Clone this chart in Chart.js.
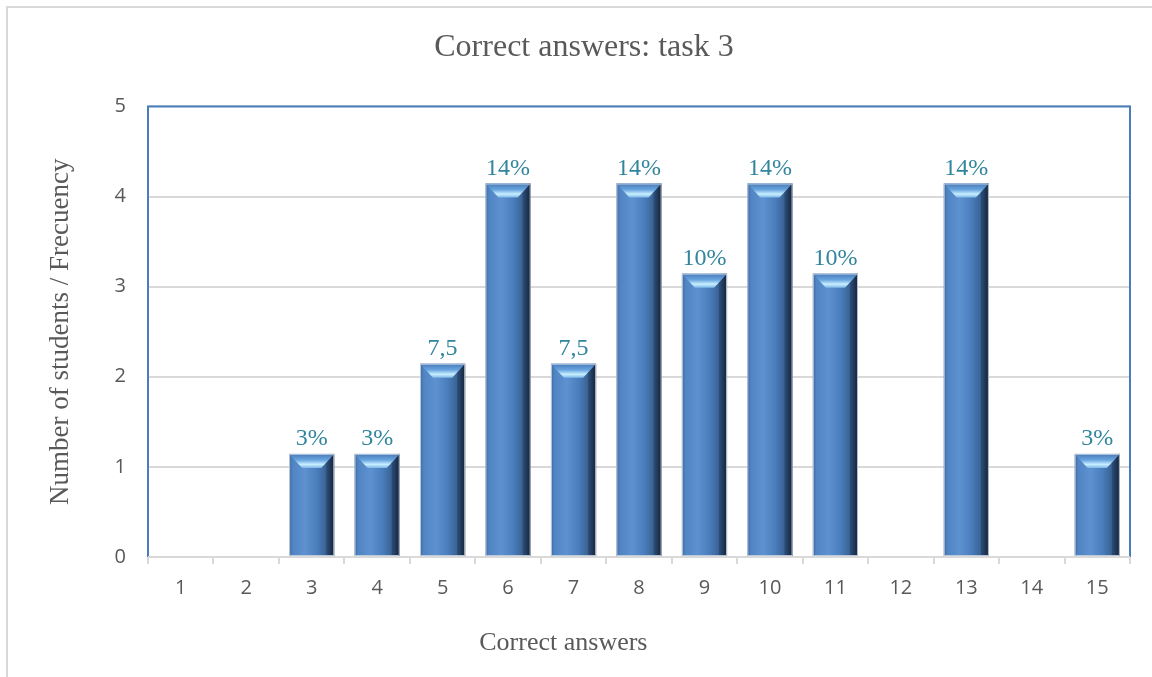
<!DOCTYPE html>
<html>
<head>
<meta charset="utf-8">
<script src="https://cdn.jsdelivr.net/npm/chart.js@4"></script>
<style>
  body { margin: 0; background: #fff; }
  #wrap { position: relative; width: 1152px; height: 677px; overflow: hidden; }
  #frame { position: absolute; left: 6px; top: 6px; width: 1200px; height: 720px; border: 2px solid #d9d9d9; }
  canvas { position: absolute; left: 0; top: 0; }
</style>
</head>
<body>
<div id="wrap">
  <div id="frame"></div>
  <canvas id="taskChart" width="1152" height="677"></canvas>
</div>
<script>
// chart data
const answers = ["1", "2", "3", "4", "5", "6", "7", "8", "9", "10", "11", "12", "13", "14", "15"];
const students = [0, 0, 1, 1, 2, 4, 2, 4, 3, 4, 3, 0, 4, 0, 1];
const percentLabels = ["", "", "3%", "3%", "7,5", "14%", "7,5", "14%", "10%", "14%", "10%", "", "14%", "", "3%"];
const yTicks = [0, 1, 2, 3, 4, 5];
const xTitle = "Correct answers";

const CAP = 13; // bevel top sticks out above the value
const SERIF = "'Liberation Serif', 'Times New Roman', serif";

// draws the bevelled bars, the plot frame and the labels
const bevelBars = {
    id: "bevelBars",
    beforeDatasetsDraw(chart) {
        let ctx = chart.ctx, a = chart.chartArea;
        ctx.save();
        ctx.strokeStyle = "#4a7ebb";
        ctx.lineWidth = 2;
        ctx.beginPath();
        ctx.moveTo(a.left, a.bottom);
        ctx.lineTo(a.left, a.top);
        ctx.lineTo(a.right, a.top);
        ctx.lineTo(a.right, a.bottom);
        ctx.stroke();
        ctx.strokeStyle = "#d9d9d9";
        ctx.beginPath();
        ctx.moveTo(a.left, a.bottom);
        ctx.lineTo(a.right, a.bottom);
        ctx.stroke();
        ctx.restore();
    },
    afterDatasetsDraw(chart) {
        let ctx = chart.ctx;
        let meta = chart.getDatasetMeta(0);
        ctx.save();
        meta.data.forEach((bar, i) => {
            if (!students[i]) return;
            let x0 = bar.x - bar.width / 2, x1 = bar.x + bar.width / 2;
            let top = bar.y - CAP, base = bar.base;

            let g = ctx.createLinearGradient(x0, 0, x1, 0);
            g.addColorStop(0, "#3d6a9f");
            g.addColorStop(0.08, "#5084c2");
            g.addColorStop(0.35, "#5d91d0");
            g.addColorStop(0.62, "#4a7dbb");
            g.addColorStop(0.85, "#365e8e");
            g.addColorStop(0.95, "#1f3552");
            g.addColorStop(1, "#16263b");
            ctx.fillStyle = g;
            ctx.fillRect(x0, top, x1 - x0, base - top);

            // top bevel
            let inset = 13, h = 14;
            ctx.beginPath();
            ctx.moveTo(x0, top);
            ctx.lineTo(x1, top);
            ctx.lineTo(x1 - inset, top + h);
            ctx.lineTo(x0 + inset, top + h);
            ctx.closePath();
            let cg = ctx.createLinearGradient(0, top, 0, top + h);
            cg.addColorStop(0, "#4679b8");
            cg.addColorStop(0.45, "#6aa6e0");
            cg.addColorStop(0.75, "#c8efff");
            cg.addColorStop(1, "#7fb7e8");
            ctx.fillStyle = cg;
            ctx.fill();

            // right side bevel
            ctx.fillStyle = "rgba(20,35,60,0.35)";
            ctx.beginPath();
            ctx.moveTo(x1, top);
            ctx.lineTo(x1, base);
            ctx.lineTo(x1 - 8, base);
            ctx.lineTo(x1 - 8, top + h - 5);
            ctx.closePath();
            ctx.fill();

            ctx.strokeStyle = "rgba(200,210,225,0.9)";
            ctx.lineWidth = 1;
            ctx.strokeRect(x0 + 0.5, top + 0.5, x1 - x0 - 1, base - top - 1);

            // percentage label
            ctx.fillStyle = "#31859c";
            ctx.font = "24px " + SERIF;
            ctx.textAlign = "center";
            ctx.textBaseline = "bottom";
            ctx.fillText(percentLabels[i], bar.x, top - 3);
        });

        // x axis title, sits left of centre like the original
        let a = chart.chartArea;
        ctx.fillStyle = "#595959";
        ctx.font = "26px " + SERIF;
        ctx.textAlign = "center";
        ctx.textBaseline = "middle";
        ctx.fillText(xTitle, a.left + (a.right - a.left) * 0.423, 643);
        ctx.restore();
    }
};

let ctx = document.getElementById("taskChart").getContext("2d");

new Chart(ctx, {
    type: "bar",
    data: {
        labels: answers,
        datasets: [{
            data: students,
            backgroundColor: "rgba(0,0,0,0)",
            borderWidth: 0,
            categoryPercentage: 1,
            barPercentage: 0.69
        }]
    },
    options: {
        responsive: false,
        animation: false,
        layout: { padding: { left: 38, right: 22, top: 0, bottom: 10 } },
        plugins: {
            legend: { display: false },
            tooltip: { enabled: false },
            title: {
                display: true,
                text: "Correct answers: task 3",
                color: "#595959",
                font: { family: SERIF, size: 32, weight: "normal" },
                padding: { top: 28, bottom: 40 }
            }
        },
        scales: {
            x: {
                grid: { offset: true, drawOnChartArea: false, drawTicks: true, tickLength: 7, color: "#d9d9d9", lineWidth: 2 },
                border: { display: false },
                ticks: { color: "#595959", font: { family: "'Open Sans', 'DejaVu Sans', sans-serif", size: 20 }, padding: 12, maxRotation: 0 },
                title: { display: false },
                afterFit: s => { s.height = 110; }
            },
            y: {
                min: 0,
                max: 5,
                afterBuildTicks: s => { s.ticks = yTicks.map(v => ({ value: v })); },
                grid: { color: "#d9d9d9", lineWidth: 2, drawTicks: false },
                border: { display: false },
                ticks: { color: "#595959", font: { family: "'Open Sans', 'DejaVu Sans', sans-serif", size: 20 }, padding: 22 },
                title: {
                    display: true,
                    text: "Number of students / Frecuency",
                    color: "#595959",
                    font: { family: SERIF, size: 27 },
                    padding: { top: 7, bottom: 0 }
                },
                afterFit: s => { s.width = 110; }
            }
        }
    },
    plugins: [bevelBars]
});
</script>
</body>
</html>
